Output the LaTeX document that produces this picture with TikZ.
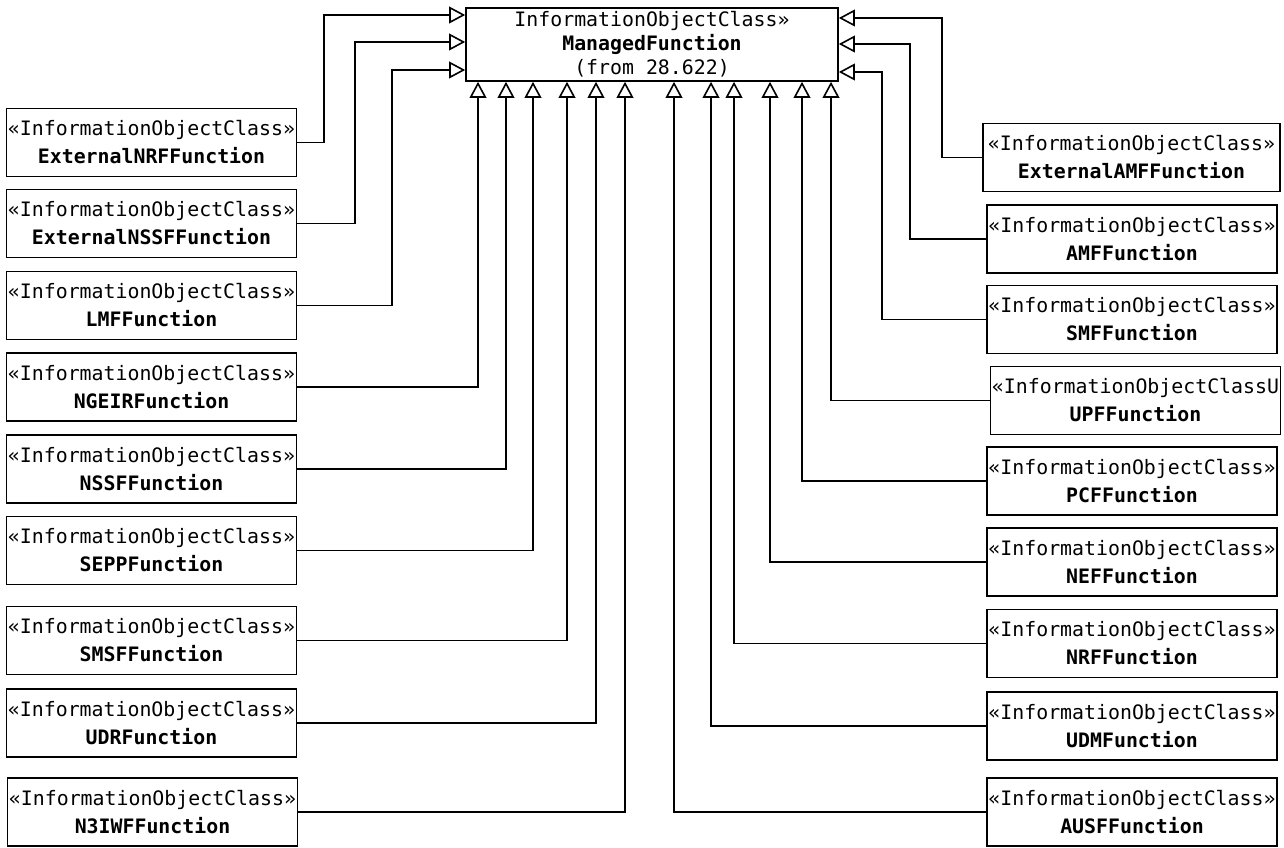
\documentclass[tikz,border=0pt]{standalone}
\usepackage{fontspec}
\setmonofont{DejaVu Sans Mono}
\usetikzlibrary{arrows.meta}
\tikzset{
 ioc/.style={draw, line width=1.2pt, fill=white, minimum width=216.75pt, minimum height=51pt,
  inner sep=1pt, align=center, font=\ttfamily\fontsize{14.9}{21}\selectfont},
 inh/.style={line width=1.2pt, -{Triangle[open,length=12pt,width=12.5pt]}},
}

\begin{document}
\begin{tikzpicture}[x=0.75pt,y=-0.75pt]
 \useasboundingbox (0,0) rectangle (1284,848);
 \node[ioc, minimum width=279pt, minimum height=54.75pt, font=\ttfamily\fontsize{14.9}{18}\selectfont] (mf) at (652,44.5)
  {InformationObjectClass»\\\textbf{ManagedFunction}\\(from 28.622)};
 \node[ioc] (enrf) at (151.5,142.5) {«InformationObjectClass»\\\textbf{ExternalNRFFunction}};
 \node[ioc] (ensf) at (151.5,223.5) {«InformationObjectClass»\\\textbf{ExternalNSSFFunction}};
 \node[ioc] (lmf) at (151.5,305.5) {«InformationObjectClass»\\\textbf{LMFFunction}};
 \node[ioc] (ngeir) at (151.5,387) {«InformationObjectClass»\\\textbf{NGEIRFunction}};
 \node[ioc] (nssf) at (151.5,469) {«InformationObjectClass»\\\textbf{NSSFFunction}};
 \node[ioc] (sepp) at (151.5,550.5) {«InformationObjectClass»\\\textbf{SEPPFunction}};
 \node[ioc] (smsf) at (151.5,640.5) {«InformationObjectClass»\\\textbf{SMSFFunction}};
 \node[ioc] (udr) at (151.5,723) {«InformationObjectClass»\\\textbf{UDRFunction}};
 \node[ioc] (n3iwf) at (152.5,812) {«InformationObjectClass»\\\textbf{N3IWFFunction}};
 \node[ioc, minimum width=222.75pt] (eamf) at (1131.5,157.5) {«InformationObjectClass»\\\textbf{ExternalAMFFunction}};
 \node[ioc] (amf) at (1132,239) {«InformationObjectClass»\\\textbf{AMFFunction}};
 \node[ioc] (smf) at (1132,319.5) {«InformationObjectClass»\\\textbf{SMFFunction}};
 \node[ioc] (upf) at (1135.5,400.5) {«InformationObjectClassU\\\textbf{UPFFunction}};
 \node[ioc] (pcf) at (1132,481) {«InformationObjectClass»\\\textbf{PCFFunction}};
 \node[ioc] (nef) at (1132,562) {«InformationObjectClass»\\\textbf{NEFFunction}};
 \node[ioc] (nrf) at (1132,643.5) {«InformationObjectClass»\\\textbf{NRFFunction}};
 \node[ioc] (udm) at (1132,726) {«InformationObjectClass»\\\textbf{UDMFunction}};
 \node[ioc] (ausf) at (1132,812) {«InformationObjectClass»\\\textbf{AUSFFunction}};
 \draw[inh] (enrf.east) -| (324,15) -- (mf.west |- 0,15);
 \draw[inh] (ensf.east) -| (355,42) -- (mf.west |- 0,42);
 \draw[inh] (lmf.east) -| (392,70) -- (mf.west |- 0,70);
 \draw[inh] (eamf.west) -| (942,18) -- (mf.east |- 0,18);
 \draw[inh] (amf.west) -| (910,44) -- (mf.east |- 0,44);
 \draw[inh] (smf.west) -| (882,72) -- (mf.east |- 0,72);
 \foreach \n/\x in {ngeir/478,nssf/506,sepp/533,smsf/567,udr/596,n3iwf/625}
  \draw[inh] (\n.east) -| (mf.south -| \x,0);
 \foreach \n/\x in {upf/831,pcf/802,nef/770,nrf/734,udm/711,ausf/674}
  \draw[inh] (\n.west) -| (mf.south -| \x,0);
\end{tikzpicture}
\end{document}
